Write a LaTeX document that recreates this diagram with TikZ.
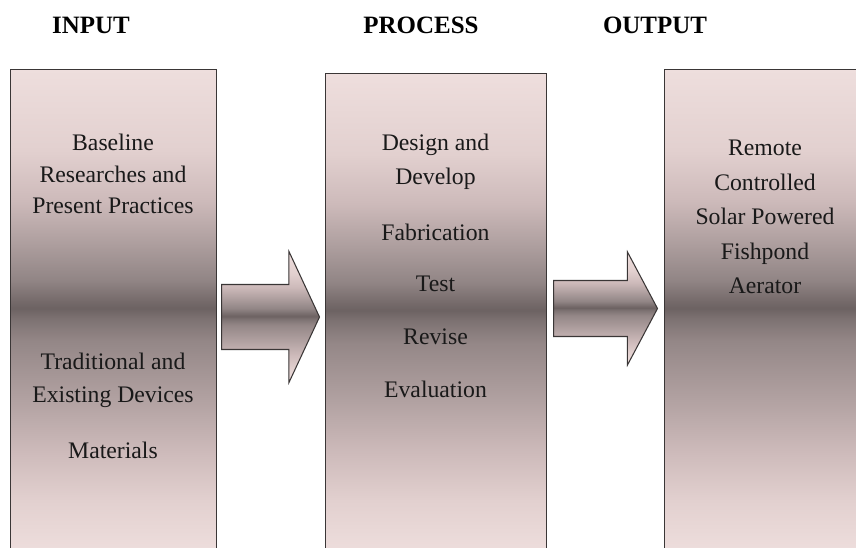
\documentclass[tikz,border=0pt]{standalone}
\usepackage{fontspec}
\setmainfont{Liberation Serif}
\usepackage{tikz}
\usetikzlibrary{positioning}
\usetikzlibrary{shapes.arrows}

\definecolor{rose0}{RGB}{238,222,221}
\definecolor{rose1}{RGB}{226,208,207}
\definecolor{rose2}{RGB}{205,186,186}
\definecolor{mauve1}{RGB}{172,157,157}
\definecolor{mauve2}{RGB}{145,133,133}
\definecolor{mauve3}{RGB}{118,107,107}
\definecolor{band}{RGB}{108,98,98}
\definecolor{mauve4}{RGB}{125,114,114}
\definecolor{mauve5}{RGB}{148,135,135}
\definecolor{mauve6}{RGB}{178,162,162}
\definecolor{edge}{RGB}{58,54,54}

% pink at both ends, dark band across the middle
\pgfdeclareverticalshading{panelshade}{100bp}{%
	color(0bp)=(rose0); color(25bp)=(rose0); color(30.4bp)=(rose1); color(35.5bp)=(rose2);%
	color(40.7bp)=(mauve6); color(46.9bp)=(mauve5); color(49.2bp)=(mauve4); color(50.3bp)=(band);%
	color(51.1bp)=(mauve3); color(53.2bp)=(mauve2); color(56.8bp)=(mauve1); color(61.4bp)=(rose2);%
	color(66.6bp)=(rose1); color(75bp)=(rose0); color(100bp)=(rose0)}

\tikzset{
	panel/.style={
		draw=edge,
		line width=0.7pt,
		shading=panelshade,
		anchor=north west,
		inner sep=0pt,
		minimum height=9.66cm},
	flow/.style={
		single arrow,
		draw=edge,
		line width=0.6pt,
		shading=panelshade,
		anchor=tail,
		inner xsep=0pt},
	head/.style={
		font=\bfseries\fontsize{14.2pt}{17pt}\selectfont,
		anchor=base,
		inner sep=0pt},
	txt/.style={
		font=\fontsize{13.5pt}{#1}\selectfont,
		align=center,
		text=black!90,
		inner sep=0pt},
	txt/.default=18.5pt
}

\begin{document}
\begin{tikzpicture}[x=0.02cm, y=-0.02cm]
	\useasboundingbox (0,0) rectangle (856,548);
	% column headings
	\node[head] (hin) at (91,33) {INPUT};
	\node[head] (hproc) at (421,33) {PROCESS};
	\node[head] (hout) at (655,33) {OUTPUT};
	% the three panels
	\node[panel, minimum width=4.12cm] (inbox) at (10,69) {};
	\node[panel, minimum width=4.42cm, minimum height=9.58cm] (procbox) at (325,73) {};
	\node[panel, minimum width=4.04cm] (outbox) at (664,69) {};
	% block arrows between panels
	\node[flow, inner ysep=0.64cm, minimum height=1.96cm, minimum width=2.6cm,
		single arrow head extend=0.66cm, single arrow tip angle=130] (a1) at (221,317) {};
	\node[flow, inner ysep=0.55cm, minimum height=2.08cm, minimum width=2.24cm,
		single arrow head extend=0.57cm, single arrow tip angle=124] (a2) at (553,308.5) {};
	% input
	\node[txt=18pt] (base) at (113,174) {Baseline\\Researches and\\Present Practices};
	\node[txt=18.8pt] (trad) at (113,380.5) {Traditional and\\Existing Devices};
	\node[txt] (mat) at (113,450) {Materials};
	% process
	\node[txt=19.3pt] (design) at (435.5,162) {Design and\\Develop};
	\node[txt, on grid, below=1.4cm of design] (fab) {Fabrication};
	\node[txt, on grid, below=1.03cm of fab] (test) {Test};
	\node[txt, on grid, below=1.06cm of test] (rev) {Revise};
	\node[txt, on grid, below=1.06cm of rev] (eval) {Evaluation};
	% output
	\node[txt=19.6pt] (aer) at (765,217) {Remote\\Controlled\\Solar Powered\\Fishpond\\Aerator};
\end{tikzpicture}
\end{document}
